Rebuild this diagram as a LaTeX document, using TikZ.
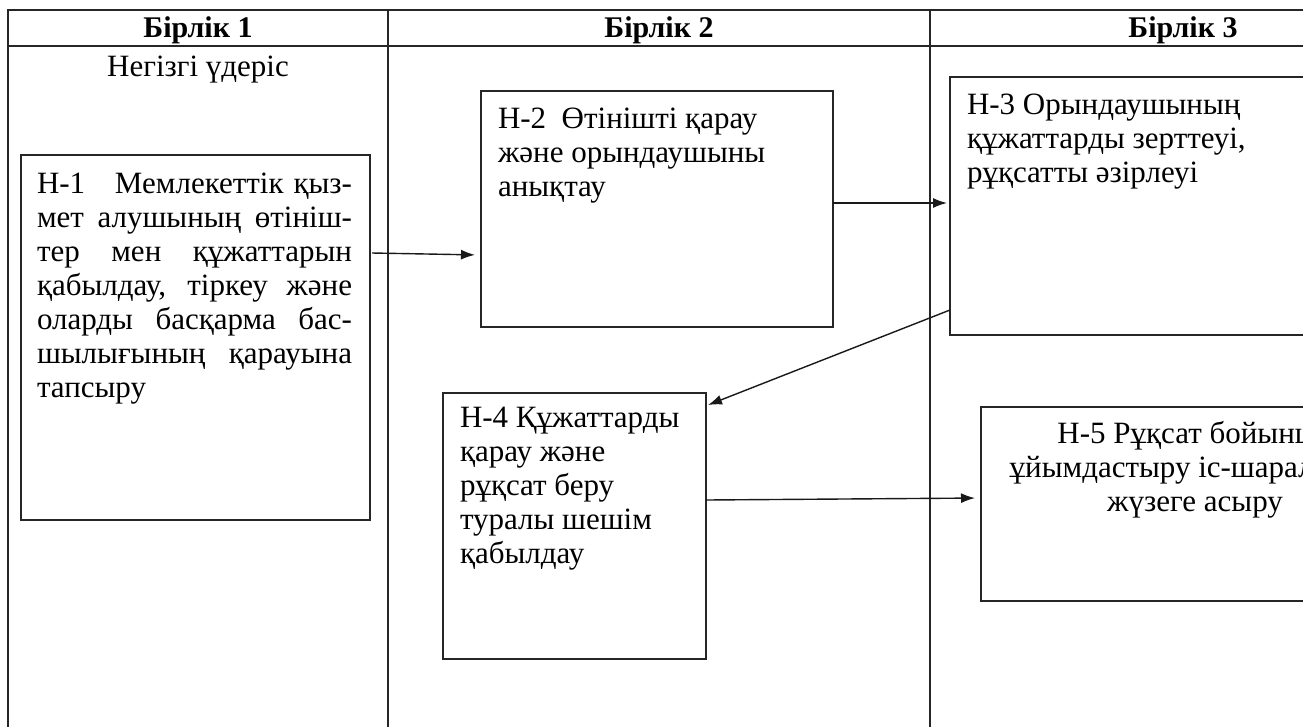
\documentclass[tikz,border=0pt]{standalone}
\usepackage{fontspec}
\setmainfont{Liberation Serif}
\usetikzlibrary{arrows.meta}
\begin{document}
\begin{tikzpicture}[x=1pt,y=-1pt,
  tbl/.style={line width=1.7pt, draw=black!85},
  stepbox/.style={draw=black!85, line width=1.7pt, rectangle, inner sep=0pt, outer sep=0pt, anchor=north west},
  txt/.style={inner sep=0pt, outer sep=0pt, anchor=north west, align=left, font=\fontsize{31}{34}\selectfont},
  ctxt/.style={inner sep=0pt, outer sep=0pt, anchor=north, align=center, font=\fontsize{31}{34}\selectfont},
  head/.style={inner sep=0pt, anchor=base, font=\fontsize{30}{34}\selectfont\bfseries},
  conn/.style={line width=1.4pt, draw=black!90, -{Latex[length=14pt,width=10pt]}}]
\useasboundingbox (0,0) rectangle (1303,726);
\clip (0,0) rectangle (1303,726);
% table
\draw[tbl] (8,740) -- (8,10) -- (1320,10);
\draw[tbl] (8,46) -- (1320,46);
\draw[tbl] (388,10) -- (388,740);
\draw[tbl] (930,10) -- (930,740);
\node[head] (hd1) at (198,37) {Бірлік 1};
\node[head] (hd2) at (659,37) {Бірлік 2};
\node[head] (hd3) at (1183,37) {Бірлік 3};
\node[inner sep=0pt, anchor=base, font=\fontsize{31}{34}\selectfont] (main) at (198,76) {Негізгі үдеріс};
% boxes
\node[stepbox, minimum width=349pt, minimum height=365pt] (h1) at (21,155) {};
\node[stepbox, minimum width=352pt, minimum height=236pt] (h2) at (481,91) {};
\node[stepbox, minimum width=420pt, minimum height=258pt] (h3) at (950,77) {};
\node[stepbox, minimum width=263pt, minimum height=266pt] (h4) at (443,393) {};
\node[stepbox, minimum width=430pt, minimum height=194pt] (h5) at (981,407) {};
% texts
\node[txt] (t1) at (37,173) {\makebox[315pt][s]{Н-1 \ \ Мемлекеттік қыз-}\\
\makebox[315pt][s]{мет алушының өтініш-}\\
\makebox[315pt][s]{тер мен құжаттарын}\\
\makebox[315pt][s]{қабылдау, тіркеу және}\\
\makebox[315pt][s]{оларды басқарма бас-}\\
\makebox[315pt][s]{шылығының қарауына}\\
тапсыру};
\node[txt] (t2) at (498,108) {Н-2 \ Өтінішті қарау\\және орындаушыны\\анықтау};
\node[txt] (t3) at (967,94) {Н-3 Орындаушының\\құжаттарды зерттеуі,\\рұқсатты әзірлеуі};
\node[txt] (t4) at (460,407) {Н-4 Құжаттарды\\қарау және\\рұқсат беру\\туралы шешім\\қабылдау};
\node[ctxt] (t5) at (1195,421) {Н-5 Рұқсат бойынша\\ұйымдастыру іс-шараларын\\жүзеге асыру};
% connectors
\draw[conn, shorten >=6pt] ([shift={(2,98)}]h1.north east) -- ([shift={(0,164)}]h2.north west);
\draw[conn, shorten >=3pt] ([shift={(0,112)}]h2.north east) -- ([shift={(0,126)}]h3.north west);
\draw[conn] ([shift={(0,233)}]h3.north west) -- ([shift={(2,12)}]h4.north east);
\draw[conn, shorten >=6pt] ([shift={(0,107)}]h4.north east) -- ([shift={(0,91)}]h5.north west);
\end{tikzpicture}
\end{document}
